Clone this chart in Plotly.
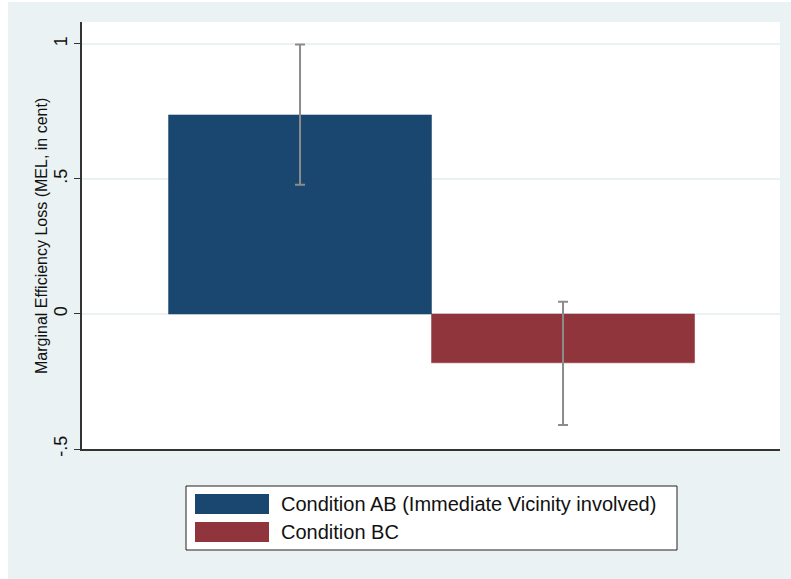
import plotly.graph_objects as go

# Mean marginal efficiency loss per condition with confidence bounds
conditions = ["Condition AB (Immediate Vicinity involved)", "Condition BC"]
positions = [1, 2]
means = [0.737, -0.181]
upper = [0.998, 0.045]
lower = [0.478, -0.411]
colors = ["#1A476F", "#90353B"]

ytick_vals = [-0.5, 0, 0.5, 1]
ytick_text = ["-.5", "0", ".5", "1"]
ytitle = "Marginal Efficiency Loss (MEL, in cent)"

fig = go.Figure()
for pos, m, hi, lo, c, name in zip(positions, means, upper, lower, colors, conditions):
    fig.add_trace(go.Bar(
        x=[pos], y=[m], width=1.0, name=name,
        marker=dict(color=c, line=dict(color=c, width=0.5)),
        error_y=dict(type="data", symmetric=False,
                     array=[hi - m], arrayminus=[m - lo],
                     color="#8C8C8C", thickness=2, width=5),
        showlegend=False,
    ))

W, H = 791, 579
L, R, T, B = 82, 11, 22, 130
pw, ph = W - L - R, H - T - B

def px(x):
    return (x - L) / pw

def py(y):
    return (H - B - y) / ph

shapes = [
    # grey-blue outer panel
    dict(type="rect", xref="paper", yref="paper", layer="below",
         x0=px(8), x1=px(791), y0=py(2), y1=py(579),
         fillcolor="#EAF2F3", line=dict(width=0)),
    # white plot region
    dict(type="rect", xref="paper", yref="paper", layer="below",
         x0=0, x1=1, y0=0, y1=1, fillcolor="white", line=dict(width=0)),
    # legend frame
    dict(type="rect", xref="paper", yref="paper",
         x0=px(186), x1=px(677), y0=py(486), y1=py(550),
         fillcolor="white", line=dict(color="#222222", width=1)),
]
annotations = [
    # y-axis title, placed explicitly
    dict(xref="paper", yref="paper", x=px(41), y=py(236), text=ytitle,
         textangle=-90, showarrow=False, xanchor="center", yanchor="middle",
         font=dict(family="Liberation Sans, Arial", size=16, color="#111111")),
]
sw_top = [494, 522]
for name, c, top in zip(conditions, colors, sw_top):
    shapes.append(dict(type="rect", xref="paper", yref="paper",
                       x0=px(195), x1=px(269), y0=py(top), y1=py(top + 20),
                       fillcolor=c, line=dict(width=0)))
    annotations.append(dict(xref="paper", yref="paper", x=px(279), y=py(top + 10),
                            text=name, showarrow=False, xanchor="left", yanchor="middle",
                            font=dict(family="Liberation Sans, Arial", size=20, color="#111111")))

fig.update_layout(
    width=W, height=H,
    margin=dict(l=L, r=R, t=T, b=B),
    paper_bgcolor="white",
    plot_bgcolor="rgba(0,0,0,0)",
    shapes=shapes,
    annotations=annotations,
    barmode="overlay",
    xaxis=dict(range=[0.171, 2.825], showticklabels=False, ticks="",
               showgrid=False, zeroline=False, showline=True,
               linecolor="#333333", linewidth=1.5),
    yaxis=dict(range=[-0.5, 1.081], tickvals=ytick_vals, ticktext=ytick_text,
               tickangle=-90, ticks="outside", ticklen=6, tickcolor="#333333",
               showgrid=True, gridcolor="#EAF2F3", gridwidth=1.5,
               zeroline=False, showline=True, linecolor="#333333", linewidth=1.5,
               tickfont=dict(family="Liberation Sans, Arial", size=18, color="#111111")),
    font=dict(family="Liberation Sans, Arial"),
)

fig.write_html("out.html")
